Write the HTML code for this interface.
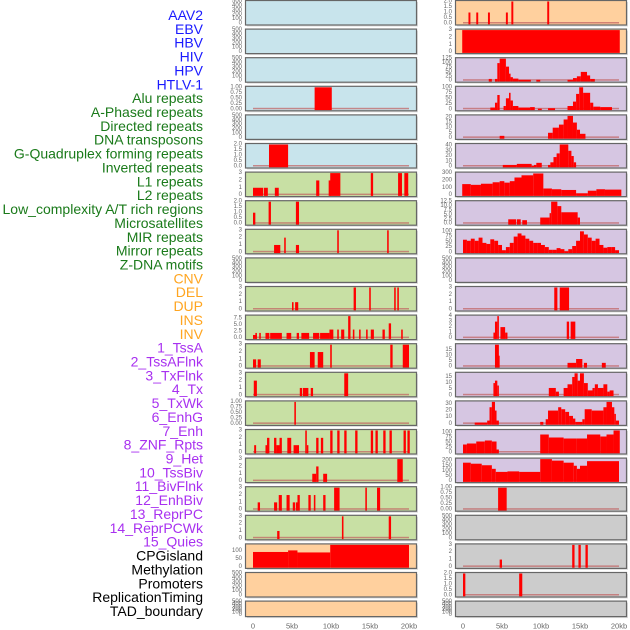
<!DOCTYPE html>
<html><head><meta charset="utf-8">
<style>
html,body{margin:0;padding:0;background:#fff;}
svg{display:block;font-family:"Liberation Sans",sans-serif;}
</style></head>
<body>
<svg id="chart" width="630" height="630" viewBox="0 0 630 630" xmlns="http://www.w3.org/2000/svg"></svg>
<script>
const labels = ["AAV2","EBV","HBV","HIV","HPV","HTLV-1","Alu repeats","A-Phased repeats","Directed repeats","DNA transposons","G-Quadruplex forming repeats","Inverted repeats","L1 repeats","L2 repeats","Low_complexity A/T rich regions","Microsatellites","MIR repeats","Mirror repeats","Z-DNA motifs","CNV","DEL","DUP","INS","INV","1_TssA","2_TssAFlnk","3_TxFlnk","4_Tx","5_TxWk","6_EnhG","7_Enh","8_ZNF_Rpts","9_Het","10_TssBiv","11_BivFlnk","12_EnhBiv","13_ReprPC","14_ReprPCWk","15_Quies","CPGisland","Methylation","Promoters","ReplicationTiming","TAD_boundary"];
const labelColors = ["#1a1aff","#1a1aff","#1a1aff","#1a1aff","#1a1aff","#1a1aff","#1a7a1a","#1a7a1a","#1a7a1a","#1a7a1a","#1a7a1a","#1a7a1a","#1a7a1a","#1a7a1a","#1a7a1a","#1a7a1a","#1a7a1a","#1a7a1a","#1a7a1a","#ffa520","#ffa520","#ffa520","#ffa520","#ffa520","#a830f0","#a830f0","#a830f0","#a830f0","#a830f0","#a830f0","#a830f0","#a830f0","#a830f0","#a830f0","#a830f0","#a830f0","#a830f0","#a830f0","#a830f0","#000","#000","#000","#000","#000"];
const xTicks = [0,5,10,15,20];
const xTickLabels = ["0","5kb","10kb","15kb","20kb"];
const T500 = [0,100,200,300,400,500];
const T1 = [0,0.25,0.5,0.75,1.0]; const T1L = ["0.00","0.25","0.50","0.75","1.00"];
const T2 = [0,0.5,1,1.5,2]; const T2L = ["0.0","0.5","1.0","1.5","2.0"];
const T3 = [0,1,2,3];
// panel: [bg, ymax, ticks, tickLabels, segments [startKb,endKb,value]]
const leftPanels = [
 ["#c8e4ec",500,T500,null,[]],
 ["#c8e4ec",500,T500,null,[]],
 ["#c8e4ec",500,T500,null,[]],
 ["#c8e4ec",1,T1,T1L,[[7.9,10.1,1]]],
 ["#c8e4ec",500,T500,null,[]],
 ["#c8e4ec",2,T2,T2L,[[2.05,4.5,2]]],
 ["#c8e0a4",3,T3,null,[[0,1.3,1],[1.4,1.9,1],[2.8,3.3,1],[8.1,8.5,2],[9.7,10.0,2],[9.9,11.2,3],[15.1,15.4,3],[18.6,19.1,3],[19.4,19.9,3]]],
 ["#c8e0a4",2,T2,T2L,[[0,0.3,1],[2.0,2.3,2],[5.5,5.9,2]]],
 ["#c8e0a4",3,T3,null,[[2.7,3.5,1],[4.0,4.2,2],[5.5,5.9,1],[10.8,11.0,3],[17.2,17.4,3]]],
 ["#c8e0a4",500,T500,null,[]],
 ["#c8e0a4",3,T3,null,[[5.0,5.2,1],[5.4,5.8,1],[12.9,13.2,3],[14.9,15.1,3],[18.1,18.3,3],[18.5,18.7,3]]],
 ["#c8e0a4",8.5,[0,2.5,5,7.5],["0.0","2.5","5.0","7.5"],[[0,0.5,1.2],[0.3,0.5,2],[0.8,1.0,2],[1.6,2.1,2],[2.2,3.7,2],[4.3,4.9,2],[5.6,5.9,2],[6.2,7.2,2],[7.7,8.5,2],[8.6,9.8,2],[9.8,10.3,3.3],[10.8,11.0,3.3],[11.3,11.7,3.3],[12.2,12.5,8.5],[12.8,13.0,3.3],[13.6,13.8,3.3],[14.5,14.7,3.3],[15.1,15.5,3.3],[16.6,16.9,3.3],[17.4,17.7,5.7],[19.0,19.2,3.3]]],
 ["#c8e0a4",3,T3,null,[[0,0.4,1],[0.6,1.0,1],[7.3,7.9,2],[8.3,9.0,2],[9.9,10.1,3],[17.6,17.9,3],[19.2,20,3]]],
 ["#c8e0a4",3,T3,null,[[0.1,0.5,2],[6.0,6.3,1],[6.4,7.1,1],[7.4,7.7,1],[11.7,12.2,3]]],
 ["#c8e0a4",1,T1,T1L,[[5.3,5.5,1]]],
 ["#c8e0a4",3,T3,null,[[0.15,0.4,1],[1.6,1.9,1],[1.8,2.1,2],[2.7,3.0,2],[3.0,3.4,1],[3.4,3.7,2],[4.4,4.9,2],[5.2,5.9,1],[6.7,6.9,3],[6.9,7.1,1],[8.1,8.4,2],[8.7,9.0,2],[9.9,10.2,3],[10.8,11.1,3],[11.7,12.0,3],[13.1,13.4,3],[15.1,15.4,3],[15.7,16.0,3],[16.7,17.0,3],[17.5,17.8,3],[19.3,19.6,3],[19.8,20.1,3]]],
 ["#c8e0a4",3,T3,null,[[7.6,8.1,1],[8.1,8.4,2],[9.0,9.5,1],[18.5,19.2,3]]],
 ["#c8e0a4",3,T3,null,[[0.6,0.9,1],[2.7,3.1,1],[3.3,3.7,2],[4.3,4.7,2],[5.1,5.4,1],[5.5,5.8,1],[5.7,6.0,2],[7.1,7.4,2],[7.8,8.0,2],[9.0,9.3,2],[10.4,11.1,3],[14.4,14.6,3],[15.9,16.3,3]]],
 ["#c8e0a4",3,T3,null,[[3.1,3.4,1],[11.4,11.6,3],[17.4,17.7,3]]],
 ["#ffd09e",140,[0,50,100],null,[[0,4.5,95],[4.5,5.7,105],[5.7,9.9,92],[9.9,20,140]]],
 ["#ffd09e",500,T500,null,[]],
 ["#ffd09e",500,T500,null,[]]
];
const rightPanels = [
 ["#ffd09e",2,T2,T2L,[[0.7,0.95,1],[1.7,1.95,1],[3.2,3.45,1],[5.5,5.75,1],[6.2,6.45,2],[10.8,11.05,2]]],
 ["#ffd09e",3,T3,null,[[-0.1,20.1,3]]],
 ["#d6c6e2",125,[0,25,50,75,100,125],null,[[3.3,3.7,10],[4.1,4.4,10],[4.4,4.7,100],[4.7,5.5,125],[5.5,5.9,80],[5.9,6.1,40],[6.1,6.4,20],[6.4,7.1,12],[7.1,8.7,5],[9.4,9.9,5],[13.4,14.1,5],[14.1,14.6,15],[14.6,15.1,25],[15.1,15.9,50],[15.9,16.3,30],[16.3,16.9,10]]],
 ["#d6c6e2",100,[0,25,50,75,100],null,[[3.5,4.1,8],[4.1,4.4,30],[4.4,4.7,65],[5.2,5.5,15],[5.5,5.9,50],[5.9,6.1,75],[6.1,6.4,40],[6.4,7.1,15],[7.1,8.6,8],[8.6,9.2,10],[9.6,10.1,3],[10.9,11.8,5],[13.4,14.1,15],[14.1,14.5,35],[14.5,14.9,70],[14.9,15.4,100],[15.4,16.3,75],[16.3,16.7,30],[16.7,17.6,12],[17.6,19.1,10]]],
 ["#d6c6e2",21.5,[0,5,10,15,20],null,[[4.7,5.3,2],[10.9,11.5,5],[11.5,12.3,10],[12.3,12.9,13],[12.9,13.4,18],[13.4,14.1,21.5],[14.1,14.6,15],[14.6,15.0,8],[15.0,15.7,4]]],
 ["#d6c6e2",42,[0,10,20,30,40],null,[[5.1,6.9,3],[6.9,8.8,5],[8.8,9.1,1],[9.1,9.4,3],[9.4,10.1,7],[10.9,11.2,3],[11.2,11.6,8],[11.6,12.0,18],[12.0,12.4,25],[12.4,13.5,42],[13.5,13.9,30],[13.9,14.2,20],[14.2,14.5,8]]],
 ["#d6c6e2",300,[0,100,200,300],null,[[-0.1,1.0,150],[1.0,2.3,140],[2.3,3.8,155],[3.8,4.7,175],[4.7,5.3,190],[5.3,6.0,170],[6.0,6.6,190],[6.6,7.5,240],[7.5,9.0,270],[9.0,10.3,295],[10.3,11.4,90],[11.4,12.6,80],[12.6,14.5,70],[14.5,16.0,25],[16.0,17.1,60],[17.1,18.2,80],[18.2,20.3,75]]],
 ["#d6c6e2",12.5,[0,2.5,5,7.5,10,12.5],["0.0","2.5","5.0","7.5","10.0","12.5"],[[5.8,6.8,2.5],[6.9,7.4,2.5],[7.6,8.2,2],[9.9,11.1,3.5],[11.1,11.3,6],[11.3,12.1,12.5],[12.1,12.6,10],[12.6,14.7,6.5],[14.7,15.0,3.5]]],
 ["#d6c6e2",105,[0,25,50,75,100],null,[[0,0.5,60],[0.5,1,55],[1,1.5,65],[1.5,2,55],[2,2.5,70],[2.5,3,45],[3,3.5,40],[3.5,4,62],[4,4.5,55],[4.5,5,35],[5,5.5,10],[5.5,6,25],[6,6.5,45],[6.5,7,75],[7,7.5,90],[7.5,8,80],[8,8.5,65],[8.5,9,55],[9,9.5,45],[9.5,10,45],[10,10.5,35],[10.5,11,25],[11,11.5,12],[11.5,12,12],[12,12.5,20],[12.5,13,15],[13,13.5,5],[13.5,14,15],[14,14.5,30],[14.5,15,55],[15,15.5,100],[15.5,16,85],[16,16.5,70],[16.5,17,55],[17,17.5,65],[17.5,18,35],[18,18.5,22],[18.5,19,25],[19,19.5,25],[19.5,20,10]]],
 ["#d6c6e2",500,T500,null,[]],
 ["#d6c6e2",3,T3,null,[[11.7,12.1,3],[12.4,13.6,3]]],
 ["#d6c6e2",4,[0,1,2,3,4],null,[[3.9,4.2,1],[4.1,4.4,3],[4.4,4.6,4],[4.8,5.4,2],[5.4,5.7,1],[13.3,13.6,3],[13.8,14.4,3]]],
 ["#d6c6e2",20,[0,5,10,15],null,[[4.1,4.6,20],[4.5,4.7,10],[13.4,14.5,3.5],[14.5,15.3,7],[15.5,15.9,3.5],[17.8,18.3,3.5]]],
 ["#d6c6e2",18,[0,5,10,15],null,[[3.9,4.1,10],[4.1,4.4,12],[4.4,4.6,8],[11.0,11.9,6],[11.9,12.3,3],[12.9,13.4,6],[13.4,14.0,9],[14.0,14.3,15],[14.3,14.7,18],[14.7,15.0,12],[15.0,15.5,18],[15.5,16.0,10],[16.0,16.6,4],[16.6,16.9,6],[16.9,17.3,9],[17.3,18.0,6],[18.0,18.5,9],[18.5,18.8,3],[18.8,19.3,4]]],
 ["#d6c6e2",33,[0,10,20,30],null,[[1.5,3.1,2],[3.1,3.4,5],[3.4,3.7,25],[3.7,4.1,33],[4.1,4.3,20],[4.3,4.6,5],[9.9,10.3,3],[10.6,10.9,7],[10.9,12.2,20],[12.2,12.6,25],[12.6,13.1,22],[13.1,13.6,18],[13.6,14.1,12],[14.1,14.4,8],[14.4,15.3,3],[15.3,15.6,7],[15.6,16.5,22],[16.5,18.0,20],[18.0,18.4,25],[18.4,19.1,33],[19.1,19.4,25],[19.4,19.6,15],[19.6,20.0,5]]],
 ["#d6c6e2",110,[0,25,50,75,100],null,[[0,0.5,40],[0.5,1.7,45],[1.7,2.8,55],[2.8,3.7,60],[3.7,4.3,55],[4.3,4.6,15],[9.9,11.0,90],[11.0,12.9,75],[12.9,14.6,70],[14.6,15.9,70],[15.9,17.6,90],[17.6,18.4,80],[18.4,19.3,90],[19.3,20.1,110]]],
 ["#d6c6e2",215,[0,50,100,150,200],null,[[0,1.0,180],[1.0,2.4,170],[2.4,3.7,155],[3.7,4.2,120],[4.2,5.7,90],[5.7,7.2,95],[7.2,9.9,90],[9.9,11.4,215],[11.4,12.9,200],[12.9,14.2,180],[14.2,14.6,150],[14.6,15.0,120],[15.0,15.9,150],[15.9,20.0,195]]],
 ["#cccccc",1,T1,T1L,[[4.5,5.6,1]]],
 ["#cccccc",500,T500,null,[]],
 ["#cccccc",3,T3,null,[[4.7,5.0,1],[14.0,14.3,3],[14.8,15.1,3],[15.7,16.0,3]]],
 ["#cccccc",2,T2,T2L,[[0,0.3,2],[7.2,7.6,2]]],
 ["#cccccc",500,T500,null,[]]
];

const svg = document.getElementById('chart');
const NS = "http://www.w3.org/2000/svg";
function mk(tag, attrs, parent){
  const e = document.createElementNS(NS, tag);
  for (const k in attrs) e.setAttribute(k, attrs[k]);
  (parent||svg).appendChild(e); return e;
}
// labels
labels.forEach((t,i)=>{
  const e = mk('text',{x:203,y:15+i*13.86,'text-anchor':'end','dominant-baseline':'central','font-size':'14',fill:labelColors[i]});
  
  
  e.textContent = t;
});
const ROW = 28.6, H = 24.5;
function drawPanel(p, idx, col){
  const px = col===0 ? 245.5 : 455.5;
  const x0 = col===0 ? 253 : 463;
  const xs = kb => x0 + kb*7.8;
  const top = 0.5 + idx*ROW;
  const h = idx===21 ? 15.5 : H;
  const bottom = top + h - 1.5;
  const inner = h - 2.5;
  const ys = v => bottom - (v/p[1])*inner;
  const g = mk('g',{});
  
  
  mk('rect',{x:px+1.5,y:top+1.5,width:171,height:h,fill:'#bbb',opacity:0.5},g);
  mk('rect',{x:px,y:top,width:171,height:h,fill:p[0],stroke:'#666','stroke-width':1.2},g);
  if (p[4].length){
    mk('rect',{x:xs(0),y:bottom-1.5,width:xs(20)-xs(0),height:1.5,fill:'#c06060',opacity:0.7},g);
  }
  p[4].forEach(s=>{
    const y = Math.max(ys(s[2]), top+0.6);
    const b = mk('rect',{x:xs(s[0]),y:y,width:Math.max(xs(s[1])-xs(s[0]),1.2),height:bottom-y+0.8,fill:'#ff0000'},g);
    
    
  });
  const tx = px - 3.5;
  p[2].forEach((v,k)=>{
    const t = mk('text',{x:tx,y:ys(v),'text-anchor':'end','dominant-baseline':'central','font-size':'6',fill:'#666'},g);
    
    
    t.textContent = p[3] ? p[3][k] : String(v);
  });
}
leftPanels.forEach((p,i)=>drawPanel(p,i,0));
rightPanels.forEach((p,i)=>drawPanel(p,i,1));
[253,463].forEach(x0=>{
  xTicks.forEach((k,i)=>{
    const t = mk('text',{x:x0+k*7.8,y:626,'text-anchor':'middle','dominant-baseline':'central','font-size':'7.5',fill:'#666'});
    
    
    t.textContent = xTickLabels[i];
  });
});
</script>
</body></html>
